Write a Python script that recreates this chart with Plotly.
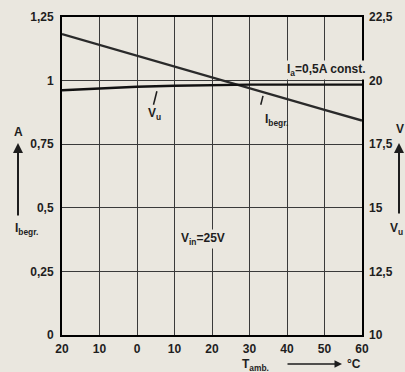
import plotly.graph_objects as go

# ambient temperature (°C)
t_amb = [-20, -10, 0, 10, 20, 30, 40, 50, 60]
# current limit I_begr. (A), left axis
i_begr = [1.183, 1.140, 1.098, 1.055, 1.013, 0.970, 0.928, 0.885, 0.843]
# output voltage V_u (V), right axis
v_u = [19.62, 19.70, 19.76, 19.80, 19.83, 19.84, 19.84, 19.84, 19.84]

x_ticks = [-20, -10, 0, 10, 20, 30, 40, 50, 60]
x_ticktext = ["20", "10", "0", "10", "20", "30", "40", "50", "60"]
y_ticks = [0, 0.25, 0.5, 0.75, 1, 1.25]
y_ticktext = ["0", "0,25", "0,5", "0,75", "1", "1,25"]
y2_ticks = [10, 12.5, 15, 17.5, 20, 22.5]
y2_ticktext = ["10", "12,5", "15", "17,5", "20", "22,5"]

FONT = "Liberation Sans Narrow, Arial Narrow, Liberation Sans, sans-serif"
INK = "#1e1e1e"
GRID = "#3a3a3a"
PAPER = "#eae7df"

fig = go.Figure()
fig.add_trace(go.Scatter(x=t_amb, y=i_begr, mode="lines",
                         line=dict(color="#2a2a2a", width=2.4), yaxis="y"))
fig.add_trace(go.Scatter(x=t_amb, y=v_u, mode="lines",
                         line=dict(color="#111", width=2.4), yaxis="y2"))

fig.update_layout(
    width=405, height=372,
    margin=dict(l=62, r=43, t=17, b=37, autoexpand=False),
    paper_bgcolor=PAPER, plot_bgcolor=PAPER,
    showlegend=False,
    font=dict(family=FONT, size=12, color=INK, weight="bold"),
    xaxis=dict(range=[-20, 60], tickvals=x_ticks, ticktext=x_ticktext,
               showgrid=True, gridcolor=GRID, gridwidth=1.3, automargin=False,
               showline=True, linecolor="#000", linewidth=2, mirror=True,
               zeroline=False, ticks="", ticklabelstandoff=2),
    yaxis=dict(range=[0, 1.25], tickvals=y_ticks, ticktext=y_ticktext,
               showgrid=True, gridcolor=GRID, gridwidth=1.3, automargin=False,
               showline=True, linecolor="#000", linewidth=2, mirror=True,
               zeroline=False, ticks="", ticklabelstandoff=4),
    yaxis2=dict(range=[10, 22.5], tickvals=y2_ticks, ticktext=y2_ticktext,
                overlaying="y", side="right", showgrid=False, zeroline=False,
                automargin=False, showline=False, ticks="", ticklabelstandoff=6),
)

# leader lines to the curve labels
fig.add_shape(type="line", x0=5.3, y0=0.958, x1=4.4, y1=0.905,
              line=dict(color=INK, width=1.5))
fig.add_shape(type="line", x0=33.6, y0=0.94, x1=33.0, y1=0.905,
              line=dict(color=INK, width=1.5))

notes = [
    dict(x=4.6, y=0.868, text="V<sub>u</sub>"),
    dict(x=37.2, y=0.845, text="I<sub>begr.</sub>"),
    dict(x=50.6, y=1.042, text="I<sub>a</sub>=0,5A const."),
    dict(x=17.6, y=0.378, text="V<sub>in</sub>=25V"),
]
for n in notes:
    fig.add_annotation(x=n["x"], y=n["y"], xref="x", yref="y", text=n["text"],
                       showarrow=False, font=dict(size=12),
                       xanchor="center", yanchor="middle",
                       bgcolor=PAPER if "const" in n["text"] or "V<sub>in" in n["text"] else None)


# axis titles with arrows, placed in paper coordinates from pixel positions
def px(xp):
    return (xp - 62) / 300


def py(yp):
    return (335 - yp) / 318


def label(xp, yp, text):
    fig.add_annotation(x=px(xp), y=py(yp), xref="paper", yref="paper", text=text,
                       showarrow=False, xanchor="center", yanchor="middle")


def arrow(xp, yp, ax, ay, width=2):
    fig.add_annotation(x=px(xp), y=py(yp), xref="paper", yref="paper", ax=ax, ay=ay,
                       showarrow=True, arrowhead=2, arrowsize=1, arrowwidth=width,
                       arrowcolor=INK, text="")


arrow(18, 143, 0, 74)
label(18, 132, "A")
label(26, 229, "I<sub>begr.</sub>")
arrow(399, 143, 0, 72)
label(400, 129, "V")
label(396, 229, "V<sub>u</sub>")
label(256, 365, "T<sub>amb.</sub>")
arrow(342, 364, -56, 0, 1.5)
label(354, 364, "°C")

# the page's default body margin would shift the figure by 8px
fig.write_html("out.html", config={"displayModeBar": False},
               post_script="document.body.style.margin='0';")
